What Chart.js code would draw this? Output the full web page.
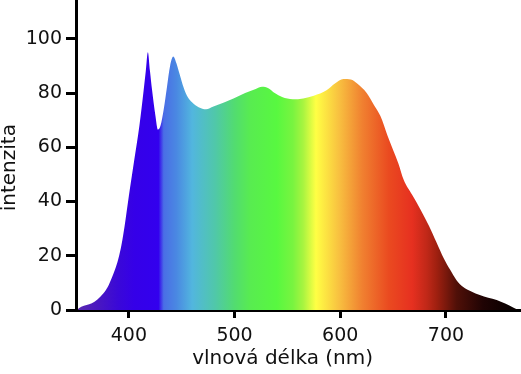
<!DOCTYPE html>
<html>
<head>
<meta charset="utf-8">
<script src="https://cdn.jsdelivr.net/npm/chart.js@4/dist/chart.umd.min.js"></script>
<style>
  html, body { margin: 0; padding: 0; background: #fff; }
  #wrap { position: relative; width: 521px; height: 374px; }
</style>
</head>
<body>
<div id="wrap"><canvas id="c"></canvas></div>
<script>
// Wavelengths (nm) and relative intensity
const wavelengths = [352,355,360,365,370,376,380,384,387,390,393,396,400,405,410,414,416,418,420,422,425,427.5,430,433,436,439,442,445,448,451,455,460,466,473,480,490,499,510,520,526,532,538,545,555,565,575,587,595,603,610,616,625,632,638,645,650,655,660,668,676,684,691,698,704,710,716,724,732,740,748,756,764,768];
const intensity   = [0.5,1.2,1.8,2.5,3.8,6.2,8.5,12,15,18.8,24,31,42,55,68,81,88,95,88,81,72,66.5,68,74,82,90,93.5,91,87,83,79,76.5,74.8,74,75,76.5,78,80,81.5,82.3,81.8,80,78.5,77.7,78,79,81,83.5,85.2,85,83.5,80,75.5,71.5,64,59,54,48,42.5,37,31,25,19,14.8,11,8.6,6.8,5.5,4.5,3.7,2.4,0.8,0];
const xTicks = [400, 500, 600, 700];
const yTicks = [0, 20, 40, 60, 80, 100];
const xTitle = 'vlnová délka (nm)';
const yTitle = 'intenzita';

// Spectrum colour stops (style)
const stopNm =     [350,     370,      390,      405,      428,      433,      445,      460,      482,      500,      515,      540,      555,      565,      577,      599,      621,      646,      668,      682,      691,      710,      735,      760];
const stopColor =  ['#5a2ab0','#4a18c0','#3a08d8','#3500e8','#3300ee','#4a6ee6','#4a88e2','#52b6de','#50c8a8','#52dc70','#58ec50','#58f840','#78f440','#a8f440','#ffff44','#f8c040','#f08030','#ea4a20','#e63020','#c02818','#a02010','#501008','#200404','#0a0000'];

const points = wavelengths.map((w, i) => ({ x: w, y: intensity[i] }));

function spectrumFill(context) {
  const chart = context.chart;
  const area = chart.chartArea;
  const xs = chart.scales.x;
  if (!area || !xs) return 'rgba(0,0,0,0)';
  const x0 = xs.getPixelForValue(stopNm[0]);
  const x1 = xs.getPixelForValue(stopNm[stopNm.length - 1]);
  const g = chart.ctx.createLinearGradient(x0, 0, x1, 0);
  const span = stopNm[stopNm.length - 1] - stopNm[0];
  stopNm.forEach((n, i) => g.addColorStop((n - stopNm[0]) / span, stopColor[i]));
  return g;
}

const FONT = 'DejaVu Sans';
const tickFont = { family: FONT, size: 19 };
const titleFont = { family: FONT, size: 20, lineHeight: 1.2 };

new Chart(document.getElementById('c'), {
  type: 'line',
  data: {
    datasets: [{
      data: points,
      fill: 'origin',
      backgroundColor: spectrumFill,
      borderWidth: 0,
      pointRadius: 0,
      cubicInterpolationMode: 'monotone'
    }]
  },
  options: {
    responsive: true,
    maintainAspectRatio: false,
    animation: false,
    events: [],
    layout: { padding: 0 },
    plugins: { legend: { display: false }, tooltip: { enabled: false } },
    scales: {
      x: {
        type: 'linear',
        min: 350,
        max: 771,
        z: 1,
        afterFit: s => { s.height = 64; s.paddingLeft = 0; s.paddingRight = 0; },
        afterBuildTicks: s => { s.ticks = xTicks.map(v => ({ value: v })); },
        border: { display: true, color: '#000', width: 3 },
        grid: { drawOnChartArea: false, drawTicks: true, tickLength: 8, tickWidth: 3, tickColor: '#000' },
        ticks: { font: tickFont, color: '#111', padding: 7, maxRotation: 0 },
        title: { display: true, text: xTitle + '\u00a0\u00a0\u00a0\u00a0\u00a0', font: titleFont, color: '#111', padding: { top: 0, bottom: 3 } }
      },
      y: {
        min: 0,
        max: 114.3,
        z: 1,
        afterFit: s => { s.width = 76; s.paddingTop = 0; s.paddingBottom = 0; },
        afterBuildTicks: s => { s.ticks = yTicks.map(v => ({ value: v })); },
        border: { display: true, color: '#000', width: 3 },
        grid: { drawOnChartArea: false, drawTicks: true, tickLength: 10, tickWidth: 3, tickColor: '#000' },
        ticks: { font: tickFont, color: '#111', padding: 4 },
        title: { display: true, text: yTitle + '\u00a0\u00a0\u00a0\u00a0', font: { family: FONT, size: 20, lineHeight: 1 }, color: '#111', padding: 0 }
      }
    }
  }
});
</script>
</body>
</html>
